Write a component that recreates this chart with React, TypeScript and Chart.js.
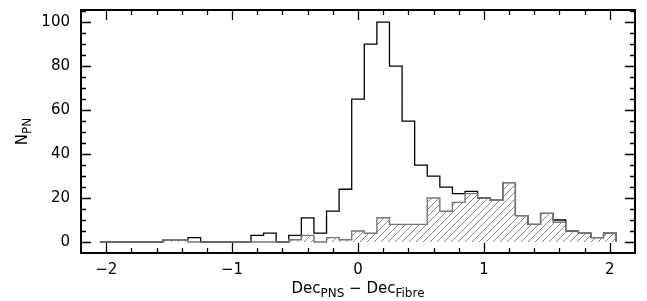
import React, { useEffect, useRef } from "react";
import { Chart, registerables } from "chart.js";

Chart.register(...registerables);

// Histogram bin centres (bin width 0.1)
const binCenters = [
  -2.0, -1.9, -1.8, -1.7, -1.6, -1.5, -1.4, -1.3, -1.2, -1.1,
  -1.0, -0.9, -0.8, -0.7, -0.6, -0.5, -0.4, -0.3, -0.2, -0.1,
  0.0, 0.1, 0.2, 0.3, 0.4, 0.5, 0.6, 0.7, 0.8, 0.9,
  1.0, 1.1, 1.2, 1.3, 1.4, 1.5, 1.6, 1.7, 1.8, 1.9, 2.0,
];
const binWidth = 0.1;

// All PNe
const allCounts = [
  0, 0, 0, 0, 0, 1, 1, 2, 0, 0,
  0, 0, 3, 4, 0, 3, 11, 4, 14, 24,
  65, 90, 100, 80, 55, 35, 30, 25, 22, 23,
  20, 19, 27, 12, 8, 13, 10, 5, 4, 2, 4,
];

// Hatched subset
const subsetCounts = [
  0, 0, 0, 0, 0, 1, 1, 0, 0, 0,
  0, 0, 0, 0, 0, 1, 3, 0, 2, 1,
  5, 4, 11, 8, 8, 8, 20, 14, 18, 22,
  20, 19, 27, 12, 8, 13, 9, 5, 4, 2, 4,
];

const xTickLabels = [-2, -1, 0, 1, 2];
const yTickLabels = [0, 20, 40, 60, 80, 100];

const FONT = "'DejaVu Sans', 'Liberation Sans', Arial, sans-serif";

function stepPoints(counts: number[]) {
  const first = binCenters[0] - binWidth / 2;
  const pts = [{ x: first, y: 0 }];
  counts.forEach((v, i) => {
    pts.push({ x: binCenters[i] - binWidth / 2, y: v });
    pts.push({ x: binCenters[i] + binWidth / 2, y: v });
  });
  const last = binCenters[binCenters.length - 1] + binWidth / 2;
  pts.push({ x: last, y: 0 });
  return pts;
}

function makeHatch(): CanvasPattern | string {
  const c = document.createElement("canvas");
  const s = 7;
  c.width = s;
  c.height = s;
  const g = c.getContext("2d");
  if (!g) return "rgba(0,0,0,0)";
  g.strokeStyle = "#7a7a7a";
  g.lineWidth = 0.9;
  g.beginPath();
  g.moveTo(-1, s + 1);
  g.lineTo(s + 1, -1);
  g.moveTo(-1, 1);
  g.lineTo(1, -1);
  g.moveTo(s - 1, s + 1);
  g.lineTo(s + 1, s - 1);
  g.stroke();
  const p = g.createPattern(c, "repeat");
  return p || "rgba(0,0,0,0)";
}

const framePlugin = {
  id: "framePlugin",
  afterDraw(chart: any) {
    const { ctx, chartArea: a, scales } = chart;
    const xs = scales.x;
    const ys = scales.y;
    ctx.save();
    ctx.strokeStyle = "#000";
    ctx.lineWidth = 1.3;
    ctx.beginPath();
    // x ticks (inside, top and bottom)
    for (let k = -10; k <= 10; k++) {
      const v = k * 0.2;
      const px = Math.round(xs.getPixelForValue(v)) + 0.5;
      const major = k % 5 === 0;
      const len = major ? 10 : 5;
      ctx.moveTo(px, a.bottom);
      ctx.lineTo(px, a.bottom - len);
      ctx.moveTo(px, a.top);
      ctx.lineTo(px, a.top + len);
    }
    // y ticks (inside, left and right)
    for (let k = 0; k <= 21; k++) {
      const v = k * 5;
      const py = Math.round(ys.getPixelForValue(v)) + 0.5;
      const major = k % 4 === 0;
      const len = major ? 10 : 5;
      ctx.moveTo(a.left, py);
      ctx.lineTo(a.left + len, py);
      ctx.moveTo(a.right, py);
      ctx.lineTo(a.right - len, py);
    }
    ctx.stroke();
    // frame
    ctx.lineWidth = 2;
    ctx.strokeRect(a.left, a.top, a.right - a.left, a.bottom - a.top);

    // x axis title with subscripts
    ctx.fillStyle = "#000";
    ctx.textBaseline = "alphabetic";
    const big = `15px ${FONT}`;
    const small = `12px ${FONT}`;
    const parts: [string, boolean][] = [
      ["Dec", false],
      ["PNS", true],
      [" \u2212 Dec", false],
      ["Fibre", true],
    ];
    let total = 0;
    for (const [t, sub] of parts) {
      ctx.font = sub ? small : big;
      total += ctx.measureText(t).width;
    }
    let x = (a.left + a.right) / 2 - total / 2;
    const base = 293;
    for (const [t, sub] of parts) {
      ctx.font = sub ? small : big;
      ctx.fillText(t, x, sub ? base + 4 : base);
      x += ctx.measureText(t).width;
    }

    // y axis title
    ctx.save();
    ctx.translate(27, (a.top + a.bottom) / 2);
    ctx.rotate(-Math.PI / 2);
    const yparts: [string, boolean][] = [
      ["N", false],
      ["PN", true],
    ];
    let tw = 0;
    for (const [t, sub] of yparts) {
      ctx.font = sub ? small : big;
      tw += ctx.measureText(t).width;
    }
    let yx = -tw / 2;
    for (const [t, sub] of yparts) {
      ctx.font = sub ? small : big;
      ctx.fillText(t, yx, sub ? 4 : 0);
      yx += ctx.measureText(t).width;
    }
    ctx.restore();
    ctx.restore();
  },
};

export default function App() {
  const ref = useRef<HTMLCanvasElement | null>(null);
  useEffect(() => {
    if (!ref.current) return;
    const chart = new Chart(ref.current, {
      type: "line",
      data: {
        datasets: [
          {
            label: "subset",
            data: stepPoints(subsetCounts),
            borderColor: "#777777",
            borderWidth: 1.4,
            backgroundColor: makeHatch() as any,
            fill: "origin",
            pointRadius: 0,
            tension: 0,
            order: 0,
          },
          {
            label: "all",
            data: stepPoints(allCounts),
            borderColor: "#000000",
            borderWidth: 1.3,
            fill: false,
            pointRadius: 0,
            tension: 0,
            order: 1,
          },
        ],
      },
      options: {
        animation: false,
        responsive: false,
        maintainAspectRatio: false,
        layout: { padding: { top: 10, right: 12, left: 0, bottom: 0 } },
        plugins: { legend: { display: false }, tooltip: { enabled: false } },
        scales: {
          x: {
            type: "linear",
            min: -2.2,
            max: 2.2,
            grid: { display: false, drawTicks: false },
            border: { display: false },
            afterBuildTicks: (s: any) => {
              s.ticks = xTickLabels.map((v) => ({ value: v }));
            },
            afterFit: (s: any) => {
              s.height = 48;
              s.paddingLeft = 0;
              s.paddingRight = 0;
            },
            ticks: {
              padding: 8,
              color: "#000",
              font: { family: FONT, size: 15 },
              maxRotation: 0,
              autoSkip: false,
              callback: (v: any) => String(v).replace("-", "\u2212"),
            },
          },
          y: {
            type: "linear",
            min: -5,
            max: 105.5,
            grid: { display: false, drawTicks: false },
            border: { display: false },
            afterBuildTicks: (s: any) => {
              s.ticks = yTickLabels.map((v) => ({ value: v }));
            },
            afterFit: (s: any) => {
              s.width = 81;
              s.paddingTop = 0;
              s.paddingBottom = 0;
            },
            ticks: {
              padding: 11,
              color: "#000",
              font: { family: FONT, size: 15 },
              autoSkip: false,
              callback: (v: any) => String(v),
            },
          },
        },
      },
      plugins: [framePlugin],
    });
    return () => chart.destroy();
  }, []);
  return (
    <div style={{ position: "fixed", left: 0, top: 0, width: 647, height: 301, background: "#fff" }}>
      <canvas ref={ref} width={647} height={301} style={{ width: 647, height: 301 }} />
    </div>
  );
}
